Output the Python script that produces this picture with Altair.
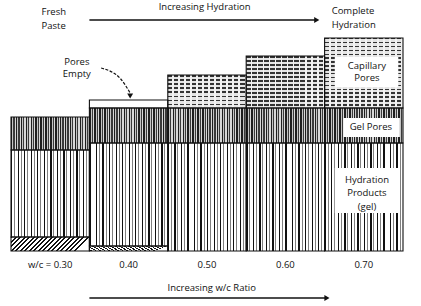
import altair as alt
import pandas as pd

# ---- data (relative volumes) ----
columns = ["w/c = 0.30", "0.40", "0.50", "0.60", "0.70"]
unhydrated = [14, 5, 0, 0, 0]
hydration_products = [87, 103, 108, 108, 108]
gel_pores = [33, 35, 35, 35, 35]
capillary_pores = [0, 0, 33, 52, 70]
pores_empty = [0, 8, 0, 0, 0]

components = [
    ("Unhydrated", unhydrated),
    ("Hydration products", hydration_products),
    ("Gel pores", gel_pores),
    ("Capillary pores", capillary_pores),
    ("Pores empty", pores_empty),
]

rows = []
for i, c in enumerate(columns):
    base = 0
    for comp, vals in components:
        v = vals[i]
        if v > 0:
            rows.append(dict(col=c, idx=i, x0=i, x1=i + 1, comp=comp,
                             y0=base, y1=base + v, h=v))
        base += v
df = pd.DataFrame(rows)

FONT = "Open Sans"
xs = alt.Scale(domain=[0, 5], nice=False, zero=False)
ys = alt.Scale(domain=[-52, 248], nice=False, zero=False)


def stripes(n, pattern, x2=1, y2=0):
    stops = []
    for k in range(n):
        prev = k / n
        for end, color in pattern:
            e = (k + end) / n
            stops.append(alt.GradientStop(offset=round(prev, 5), color=color))
            stops.append(alt.GradientStop(offset=round(e, 5), color=color))
            prev = e
    return alt.LinearGradient(gradient="linear", stops=stops, x1=0, y1=0, x2=x2, y2=y2)


gel_fill = stripes(12, [(0.2, "#111111"), (0.48, "#ffffff"), (0.62, "#808080"), (1.0, "#ffffff")])
gelpore_fill = stripes(16, [(0.3, "#1e1e1e"), (0.5, "#c4c4c4"), (0.75, "#3a3a3a"), (1.0, "#d8d8d8")])
hatch_fill = stripes(18, [(0.4, "#111111"), (1.0, "#ffffff")], x2=1, y2=0.18)
dash_fill = stripes(13, [(0.72, "rgba(255,255,255,0)"), (1.0, "#f2f2f2")])


def enc(ch):
    return ch.encode(
        x=alt.X("x0:Q", scale=xs, axis=None),
        x2="x1:Q",
        y=alt.Y("y0:Q", scale=ys, axis=None),
        y2="y1:Q",
    )


base = alt.Chart(df)
layers = []
layers.append(enc(base.transform_filter(alt.datum.comp == "Unhydrated").mark_rect(fill=hatch_fill)))
layers.append(enc(base.transform_filter(alt.datum.comp == "Hydration products").mark_rect(fill=gel_fill)))
layers.append(enc(base.transform_filter(alt.datum.comp == "Gel pores").mark_rect(fill=gelpore_fill)))
layers.append(enc(base.transform_filter(alt.datum.comp == "Pores empty").mark_rect(fill="#ffffff")))
for i, v in enumerate(capillary_pores):
    if v > 0:
        n = max(3, round(v / 4))
        cap_fill = stripes(n, [(0.38, "#333333"), (1.0, "#e4e4e4")], x2=0, y2=1)
        sub = base.transform_filter((alt.datum.comp == "Capillary pores") & (alt.datum.idx == i))
        layers.append(enc(sub.mark_rect(fill=cap_fill)))
        layers.append(enc(sub.mark_rect(fill=dash_fill)))
# outlines
layers.append(enc(base.mark_rect(fill="#ffffff", fillOpacity=0, stroke="#111111", strokeWidth=1.1)))

# ---- label boxes inside last column ----
boxes = pd.DataFrame([
    dict(x0=4.13, x1=4.94, y0=164, y1=194),
    dict(x0=4.24, x1=4.96, y0=114, y1=133),
    dict(x0=4.13, x1=4.96, y0=38, y1=83),
])
layers.append(alt.Chart(boxes).mark_rect(fill="#ffffff").encode(
    x=alt.X("x0:Q", scale=xs, axis=None), x2="x1:Q",
    y=alt.Y("y0:Q", scale=ys, axis=None), y2="y1:Q"))

# ---- texts ----
center_texts = pd.DataFrame([
    dict(x=4.54, y=185, t="Capillary"),
    dict(x=4.54, y=173, t="Pores"),
    dict(x=4.59, y=124, t="Gel Pores"),
    dict(x=4.54, y=71, t="Hydration"),
    dict(x=4.54, y=58, t="Products"),
    dict(x=4.54, y=44, t="(gel)"),
    dict(x=2.47, y=244, t="Increasing Hydration"),
    dict(x=0.84, y=189, t="Pores"),
    dict(x=0.84, y=177, t="Empty"),
    dict(x=2.56, y=-37, t="Increasing w/c Ratio"),
])
left_texts = pd.DataFrame([
    dict(x=0.39, y=239, t="Fresh"),
    dict(x=0.39, y=225, t="Paste"),
    dict(x=4.09, y=240, t="Complete"),
    dict(x=4.09, y=226, t="Hydration"),
])
tick_labels = pd.DataFrame(dict(x=[i + 0.5 for i in range(len(columns))], y=[-14] * len(columns), t=columns))

for d, al in [(center_texts, "center"), (left_texts, "left"), (tick_labels, "center")]:
    layers.append(alt.Chart(d).mark_text(align=al, baseline="middle", font=FONT, fontSize=9.5, color="#111111").encode(
        x=alt.X("x:Q", scale=xs, axis=None), y=alt.Y("y:Q", scale=ys, axis=None), text="t:N"))

# ---- arrows ----
arrows = pd.DataFrame([
    dict(x0=1.0, x1=3.9, y=231),
    dict(x0=1.0, x1=4.03, y=-47),
])
layers.append(alt.Chart(arrows).mark_rule(color="#111111", strokeWidth=1.6).encode(
    x=alt.X("x0:Q", scale=xs, axis=None), x2="x1:Q", y=alt.Y("y:Q", scale=ys, axis=None)))
heads = pd.DataFrame([
    dict(x=3.9, y=231, s="triangle-right"),
    dict(x=4.03, y=-47, s="triangle-right"),
    dict(x=1.52, y=155, s="triangle-down"),
])
layers.append(alt.Chart(heads).mark_point(filled=True, color="#111111", size=35, opacity=1).encode(
    x=alt.X("x:Q", scale=xs, axis=None), y=alt.Y("y:Q", scale=ys, axis=None),
    shape=alt.Shape("s:N", scale=None)))
curve = pd.DataFrame([
    dict(x=1.15, y=183, o=0),
    dict(x=1.40, y=172, o=1),
    dict(x=1.52, y=158, o=2),
])
layers.append(alt.Chart(curve).mark_line(color="#111111", strokeWidth=1.2, interpolate="monotone", strokeDash=[3, 1.5]).encode(
    x=alt.X("x:Q", scale=xs, axis=None), y=alt.Y("y:Q", scale=ys, axis=None), order="o:Q"))

chart = alt.layer(*layers).properties(
    width=392, height=300,
    autosize=alt.AutoSizeParams(type="none"),
    padding={"left": 11, "top": 3, "right": 18, "bottom": 3},
    background="#ffffff",
).configure_view(stroke=None)

chart.save("out.html", embed_options={"renderer": "svg", "actions": False})
